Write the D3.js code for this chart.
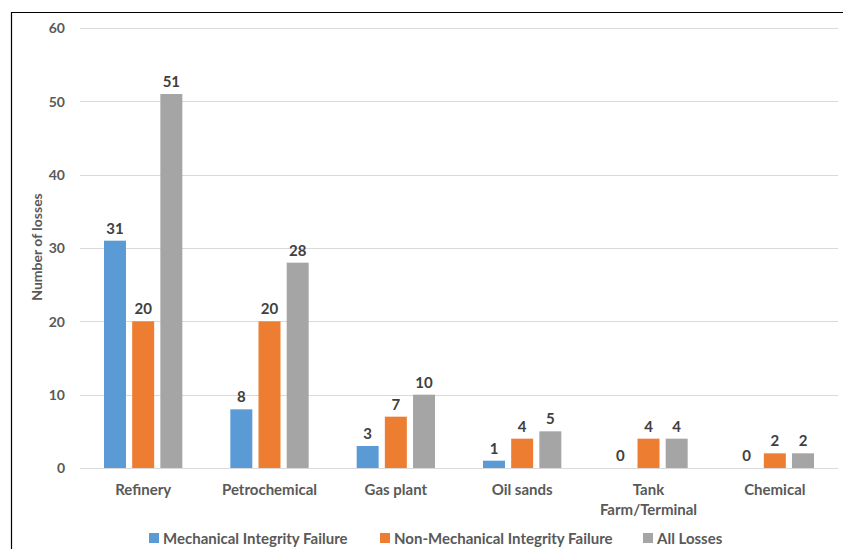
<!DOCTYPE html>
<html>
<head>
<meta charset="utf-8">
<script src="https://cdn.jsdelivr.net/npm/d3@7"></script>
<style>
  html, body { margin: 0; padding: 0; background: #fff; }
  svg { display: block; font-family: Lato, "Open Sans", sans-serif; }
</style>
</head>
<body>
<svg id="chart" width="843" height="549"></svg>
<script>
// Loss counts by facility type
const categories = ["Refinery", "Petrochemical", "Gas plant", "Oil sands", "Tank\nFarm/Terminal", "Chemical"];
const seriesNames = ["Mechanical Integrity Failure", "Non-Mechanical Integrity Failure", "All Losses"];
const mechanical = [31, 8, 3, 1, 0, 0];
const nonMechanical = [20, 20, 7, 4, 4, 2];
const allLosses = [51, 28, 10, 5, 4, 2];
const yTicks = [0, 10, 20, 30, 40, 50, 60];
const colors = ["#5B9BD5", "#ED7D31", "#A5A5A5"];

const series = [mechanical, nonMechanical, allLosses];

const svg = d3.select("#chart");
const plot = { left: 80, right: 838, top: 28, bottom: 468 };

// frame lines along the top and left edges
svg.append("line").attr("x1", 11).attr("x2", 843).attr("y1", 12.5).attr("y2", 12.5)
  .attr("stroke", "#000").attr("stroke-width", 1.2);
svg.append("line").attr("x1", 11.5).attr("x2", 11.5).attr("y1", 12).attr("y2", 549)
  .attr("stroke", "#000").attr("stroke-width", 1.2);

const y = d3.scaleLinear().domain([0, 60]).range([plot.bottom, plot.top]);
const x0 = d3.scaleBand().domain(categories).range([plot.left, plot.right]).padding(0);
const groupPad = 24;
const x1 = d3.scaleBand().domain(d3.range(3))
  .range([groupPad, x0.bandwidth() - groupPad]).paddingInner(0.22).paddingOuter(0);

// gridlines
svg.append("g").selectAll("line").data(yTicks).join("line")
  .attr("x1", plot.left).attr("x2", plot.right)
  .attr("y1", d => Math.round(y(d)) + 0.5).attr("y2", d => Math.round(y(d)) + 0.5)
  .attr("stroke", "#D9D9D9").attr("stroke-width", 1);

// y axis labels
const yAxis = d3.axisLeft(y).tickValues(yTicks).tickSize(0).tickPadding(0);
const yg = svg.append("g").attr("transform", `translate(${plot.left - 15},0)`).call(yAxis);
yg.select(".domain").remove();
yg.selectAll("text").attr("fill", "#595959").attr("font-size", 14).attr("font-weight", 700)
  .attr("font-family", "Lato, sans-serif").attr("dy", "0.35em");

// y axis title
svg.append("text")
  .attr("transform", `translate(42,247) rotate(-90)`)
  .attr("text-anchor", "middle").attr("fill", "#595959")
  .attr("font-size", 14).attr("font-weight", 700).text("Number of losses");

// bars
const groups = svg.append("g").selectAll("g").data(categories).join("g")
  .attr("transform", d => `translate(${x0(d)},0)`);

groups.each(function(cat, ci) {
  const g = d3.select(this);
  series.forEach((vals, si) => {
    const v = vals[ci];
    if (v > 0) {
      g.append("rect")
        .attr("x", x1(si)).attr("width", x1.bandwidth())
        .attr("y", y(v)).attr("height", y(0) - y(v))
        .attr("fill", colors[si]);
    }
    g.append("text")
      .attr("x", x1(si) + x1.bandwidth() / 2)
      .attr("y", y(v) - 7)
      .attr("text-anchor", "middle").attr("fill", "#404040")
      .attr("font-size", 15).attr("font-weight", 700)
      .text(v);
  });
});

// category labels
const xg = svg.append("g");
categories.forEach(cat => {
  const lines = cat.split("\n");
  const t = xg.append("text")
    .attr("x", x0(cat) + x0.bandwidth() / 2).attr("y", 495)
    .attr("text-anchor", "middle").attr("fill", "#595959")
    .attr("font-size", 15).attr("font-weight", 700);
  lines.forEach((ln, i) => {
    t.append("tspan").attr("x", x0(cat) + x0.bandwidth() / 2)
      .attr("dy", i === 0 ? 0 : 20).text(ln);
  });
});

// legend
const legendX = [149, 380, 643];
const legend = svg.append("g");
seriesNames.forEach((name, i) => {
  legend.append("rect").attr("x", legendX[i]).attr("y", 533).attr("width", 10).attr("height", 10)
    .attr("fill", colors[i]);
  legend.append("text").attr("x", legendX[i] + 14).attr("y", 544)
    .attr("fill", "#595959").attr("font-size", 15).attr("font-weight", 700).text(name);
});
</script>
</body>
</html>
